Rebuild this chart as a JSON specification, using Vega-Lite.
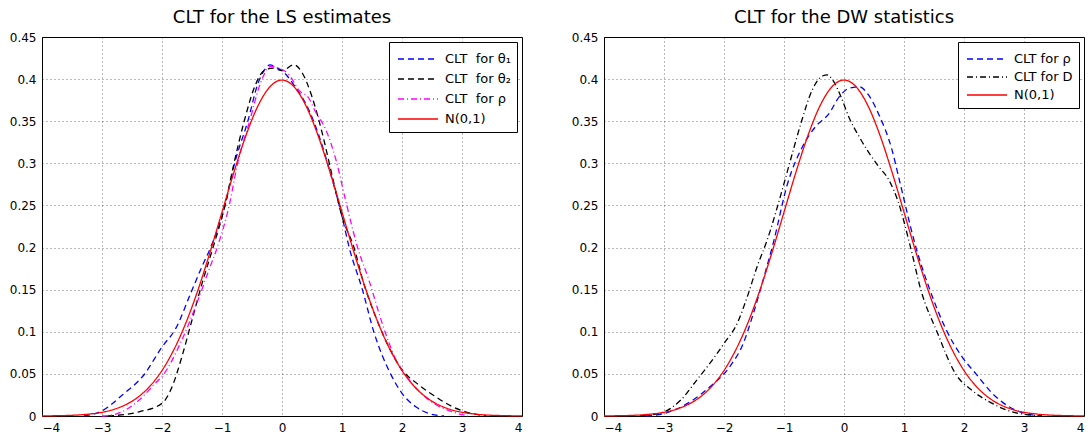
{
  "$schema": "https://vega.github.io/schema/vega-lite/v6.json",
  "padding": {"left": 8, "top": 8, "right": 2, "bottom": 2},
  "background": "white",
  "spacing": 44,
  "datasets": {
    "ls": [
      {"s": "CLT\u00a0 for θ₁", "x": -3.3, "y": 0},
      {"s": "CLT\u00a0 for θ₁", "x": -3.0, "y": 0.006},
      {"s": "CLT\u00a0 for θ₁", "x": -2.66, "y": 0.025},
      {"s": "CLT\u00a0 for θ₁", "x": -2.3, "y": 0.049},
      {"s": "CLT\u00a0 for θ₁", "x": -2.0, "y": 0.082},
      {"s": "CLT\u00a0 for θ₁", "x": -1.77, "y": 0.104},
      {"s": "CLT\u00a0 for θ₁", "x": -1.52, "y": 0.146},
      {"s": "CLT\u00a0 for θ₁", "x": -1.33, "y": 0.178},
      {"s": "CLT\u00a0 for θ₁", "x": -1.19, "y": 0.2},
      {"s": "CLT\u00a0 for θ₁", "x": -0.95, "y": 0.25},
      {"s": "CLT\u00a0 for θ₁", "x": -0.79, "y": 0.3},
      {"s": "CLT\u00a0 for θ₁", "x": -0.57, "y": 0.35},
      {"s": "CLT\u00a0 for θ₁", "x": -0.4, "y": 0.395},
      {"s": "CLT\u00a0 for θ₁", "x": -0.3, "y": 0.41},
      {"s": "CLT\u00a0 for θ₁", "x": -0.2, "y": 0.417},
      {"s": "CLT\u00a0 for θ₁", "x": -0.1, "y": 0.414},
      {"s": "CLT\u00a0 for θ₁", "x": 0, "y": 0.41},
      {"s": "CLT\u00a0 for θ₁", "x": 0.2, "y": 0.393},
      {"s": "CLT\u00a0 for θ₁", "x": 0.45, "y": 0.363},
      {"s": "CLT\u00a0 for θ₁", "x": 0.62, "y": 0.332},
      {"s": "CLT\u00a0 for θ₁", "x": 0.8, "y": 0.29},
      {"s": "CLT\u00a0 for θ₁", "x": 1.0, "y": 0.237},
      {"s": "CLT\u00a0 for θ₁", "x": 1.12, "y": 0.2},
      {"s": "CLT\u00a0 for θ₁", "x": 1.34, "y": 0.15},
      {"s": "CLT\u00a0 for θ₁", "x": 1.53, "y": 0.1},
      {"s": "CLT\u00a0 for θ₁", "x": 1.81, "y": 0.05},
      {"s": "CLT\u00a0 for θ₁", "x": 2.0, "y": 0.027},
      {"s": "CLT\u00a0 for θ₁", "x": 2.23, "y": 0.011},
      {"s": "CLT\u00a0 for θ₁", "x": 2.45, "y": 0.003},
      {"s": "CLT\u00a0 for θ₁", "x": 2.7, "y": 0},

      {"s": "CLT\u00a0 for θ₂", "x": -2.9, "y": 0},
      {"s": "CLT\u00a0 for θ₂", "x": -2.38, "y": 0.005},
      {"s": "CLT\u00a0 for θ₂", "x": -2.0, "y": 0.015},
      {"s": "CLT\u00a0 for θ₂", "x": -1.83, "y": 0.035},
      {"s": "CLT\u00a0 for θ₂", "x": -1.67, "y": 0.07},
      {"s": "CLT\u00a0 for θ₂", "x": -1.5, "y": 0.114},
      {"s": "CLT\u00a0 for θ₂", "x": -1.33, "y": 0.158},
      {"s": "CLT\u00a0 for θ₂", "x": -1.15, "y": 0.2},
      {"s": "CLT\u00a0 for θ₂", "x": -0.95, "y": 0.25},
      {"s": "CLT\u00a0 for θ₂", "x": -0.8, "y": 0.3},
      {"s": "CLT\u00a0 for θ₂", "x": -0.63, "y": 0.35},
      {"s": "CLT\u00a0 for θ₂", "x": -0.45, "y": 0.392},
      {"s": "CLT\u00a0 for θ₂", "x": -0.3, "y": 0.41},
      {"s": "CLT\u00a0 for θ₂", "x": -0.15, "y": 0.413},
      {"s": "CLT\u00a0 for θ₂", "x": 0, "y": 0.41},
      {"s": "CLT\u00a0 for θ₂", "x": 0.2, "y": 0.417},
      {"s": "CLT\u00a0 for θ₂", "x": 0.34, "y": 0.407},
      {"s": "CLT\u00a0 for θ₂", "x": 0.5, "y": 0.379},
      {"s": "CLT\u00a0 for θ₂", "x": 0.67, "y": 0.336},
      {"s": "CLT\u00a0 for θ₂", "x": 0.84, "y": 0.284},
      {"s": "CLT\u00a0 for θ₂", "x": 1.0, "y": 0.237},
      {"s": "CLT\u00a0 for θ₂", "x": 1.2, "y": 0.2},
      {"s": "CLT\u00a0 for θ₂", "x": 1.36, "y": 0.158},
      {"s": "CLT\u00a0 for θ₂", "x": 1.56, "y": 0.118},
      {"s": "CLT\u00a0 for θ₂", "x": 1.78, "y": 0.082},
      {"s": "CLT\u00a0 for θ₂", "x": 2.0, "y": 0.055},
      {"s": "CLT\u00a0 for θ₂", "x": 2.28, "y": 0.037},
      {"s": "CLT\u00a0 for θ₂", "x": 2.56, "y": 0.023},
      {"s": "CLT\u00a0 for θ₂", "x": 2.84, "y": 0.011},
      {"s": "CLT\u00a0 for θ₂", "x": 3.06, "y": 0.005},
      {"s": "CLT\u00a0 for θ₂", "x": 3.4, "y": 0},

      {"s": "CLT\u00a0 for ρ", "x": -3.0, "y": 0},
      {"s": "CLT\u00a0 for ρ", "x": -2.78, "y": 0.002},
      {"s": "CLT\u00a0 for ρ", "x": -2.38, "y": 0.019},
      {"s": "CLT\u00a0 for ρ", "x": -2.11, "y": 0.039},
      {"s": "CLT\u00a0 for ρ", "x": -2.0, "y": 0.047},
      {"s": "CLT\u00a0 for ρ", "x": -1.67, "y": 0.09},
      {"s": "CLT\u00a0 for ρ", "x": -1.44, "y": 0.13},
      {"s": "CLT\u00a0 for ρ", "x": -1.22, "y": 0.173},
      {"s": "CLT\u00a0 for ρ", "x": -1.08, "y": 0.2},
      {"s": "CLT\u00a0 for ρ", "x": -0.88, "y": 0.25},
      {"s": "CLT\u00a0 for ρ", "x": -0.74, "y": 0.3},
      {"s": "CLT\u00a0 for ρ", "x": -0.54, "y": 0.35},
      {"s": "CLT\u00a0 for ρ", "x": -0.36, "y": 0.395},
      {"s": "CLT\u00a0 for ρ", "x": -0.19, "y": 0.415},
      {"s": "CLT\u00a0 for ρ", "x": -0.05, "y": 0.413},
      {"s": "CLT\u00a0 for ρ", "x": 0.12, "y": 0.405},
      {"s": "CLT\u00a0 for ρ", "x": 0.28, "y": 0.387},
      {"s": "CLT\u00a0 for ρ", "x": 0.45, "y": 0.377},
      {"s": "CLT\u00a0 for ρ", "x": 0.56, "y": 0.361},
      {"s": "CLT\u00a0 for ρ", "x": 0.73, "y": 0.34},
      {"s": "CLT\u00a0 for ρ", "x": 0.9, "y": 0.304},
      {"s": "CLT\u00a0 for ρ", "x": 1.06, "y": 0.256},
      {"s": "CLT\u00a0 for ρ", "x": 1.26, "y": 0.2},
      {"s": "CLT\u00a0 for ρ", "x": 1.45, "y": 0.161},
      {"s": "CLT\u00a0 for ρ", "x": 1.67, "y": 0.11},
      {"s": "CLT\u00a0 for ρ", "x": 1.89, "y": 0.068},
      {"s": "CLT\u00a0 for ρ", "x": 2.12, "y": 0.043},
      {"s": "CLT\u00a0 for ρ", "x": 2.45, "y": 0.019},
      {"s": "CLT\u00a0 for ρ", "x": 2.84, "y": 0.005},
      {"s": "CLT\u00a0 for ρ", "x": 3.1, "y": 0},

      {"s": "N(0,1)", "x": -4.0, "y": 0.0001},
      {"s": "N(0,1)", "x": -3.8, "y": 0.0003},
      {"s": "N(0,1)", "x": -3.6, "y": 0.0006},
      {"s": "N(0,1)", "x": -3.4, "y": 0.0012},
      {"s": "N(0,1)", "x": -3.2, "y": 0.0024},
      {"s": "N(0,1)", "x": -3.0, "y": 0.0044},
      {"s": "N(0,1)", "x": -2.8, "y": 0.0079},
      {"s": "N(0,1)", "x": -2.6, "y": 0.0136},
      {"s": "N(0,1)", "x": -2.4, "y": 0.0224},
      {"s": "N(0,1)", "x": -2.2, "y": 0.0355},
      {"s": "N(0,1)", "x": -2.0, "y": 0.054},
      {"s": "N(0,1)", "x": -1.8, "y": 0.079},
      {"s": "N(0,1)", "x": -1.6, "y": 0.1109},
      {"s": "N(0,1)", "x": -1.4, "y": 0.1497},
      {"s": "N(0,1)", "x": -1.2, "y": 0.1942},
      {"s": "N(0,1)", "x": -1.0, "y": 0.242},
      {"s": "N(0,1)", "x": -0.8, "y": 0.2897},
      {"s": "N(0,1)", "x": -0.6, "y": 0.3332},
      {"s": "N(0,1)", "x": -0.4, "y": 0.3683},
      {"s": "N(0,1)", "x": -0.2, "y": 0.391},
      {"s": "N(0,1)", "x": 0, "y": 0.3989},
      {"s": "N(0,1)", "x": 0.2, "y": 0.391},
      {"s": "N(0,1)", "x": 0.4, "y": 0.3683},
      {"s": "N(0,1)", "x": 0.6, "y": 0.3332},
      {"s": "N(0,1)", "x": 0.8, "y": 0.2897},
      {"s": "N(0,1)", "x": 1.0, "y": 0.242},
      {"s": "N(0,1)", "x": 1.2, "y": 0.1942},
      {"s": "N(0,1)", "x": 1.4, "y": 0.1497},
      {"s": "N(0,1)", "x": 1.6, "y": 0.1109},
      {"s": "N(0,1)", "x": 1.8, "y": 0.079},
      {"s": "N(0,1)", "x": 2.0, "y": 0.054},
      {"s": "N(0,1)", "x": 2.2, "y": 0.0355},
      {"s": "N(0,1)", "x": 2.4, "y": 0.0224},
      {"s": "N(0,1)", "x": 2.6, "y": 0.0136},
      {"s": "N(0,1)", "x": 2.8, "y": 0.0079},
      {"s": "N(0,1)", "x": 3.0, "y": 0.0044},
      {"s": "N(0,1)", "x": 3.2, "y": 0.0024},
      {"s": "N(0,1)", "x": 3.4, "y": 0.0012},
      {"s": "N(0,1)", "x": 3.6, "y": 0.0006},
      {"s": "N(0,1)", "x": 3.8, "y": 0.0003},
      {"s": "N(0,1)", "x": 4.0, "y": 0.0001}
    ],
    "dw": [
      {"s": "CLT for ρ", "x": -3.3, "y": 0},
      {"s": "CLT for ρ", "x": -3.0, "y": 0.003},
      {"s": "CLT for ρ", "x": -2.56, "y": 0.017},
      {"s": "CLT for ρ", "x": -2.23, "y": 0.035},
      {"s": "CLT for ρ", "x": -1.9, "y": 0.059},
      {"s": "CLT for ρ", "x": -1.68, "y": 0.086},
      {"s": "CLT for ρ", "x": -1.51, "y": 0.122},
      {"s": "CLT for ρ", "x": -1.35, "y": 0.161},
      {"s": "CLT for ρ", "x": -1.18, "y": 0.205},
      {"s": "CLT for ρ", "x": -0.94, "y": 0.276},
      {"s": "CLT for ρ", "x": -0.69, "y": 0.32},
      {"s": "CLT for ρ", "x": -0.47, "y": 0.344},
      {"s": "CLT for ρ", "x": -0.25, "y": 0.359},
      {"s": "CLT for ρ", "x": -0.08, "y": 0.379},
      {"s": "CLT for ρ", "x": 0.08, "y": 0.389},
      {"s": "CLT for ρ", "x": 0.25, "y": 0.391},
      {"s": "CLT for ρ", "x": 0.42, "y": 0.38},
      {"s": "CLT for ρ", "x": 0.58, "y": 0.358},
      {"s": "CLT for ρ", "x": 0.8, "y": 0.316},
      {"s": "CLT for ρ", "x": 0.92, "y": 0.281},
      {"s": "CLT for ρ", "x": 1.2, "y": 0.2},
      {"s": "CLT for ρ", "x": 1.43, "y": 0.15},
      {"s": "CLT for ρ", "x": 1.72, "y": 0.1},
      {"s": "CLT for ρ", "x": 1.97, "y": 0.07},
      {"s": "CLT for ρ", "x": 2.2, "y": 0.05},
      {"s": "CLT for ρ", "x": 2.47, "y": 0.027},
      {"s": "CLT for ρ", "x": 2.75, "y": 0.011},
      {"s": "CLT for ρ", "x": 2.97, "y": 0.004},
      {"s": "CLT for ρ", "x": 3.3, "y": 0},

      {"s": "CLT for D", "x": -3.4, "y": 0},
      {"s": "CLT for D", "x": -3.0, "y": 0.005},
      {"s": "CLT for D", "x": -2.72, "y": 0.019},
      {"s": "CLT for D", "x": -2.45, "y": 0.043},
      {"s": "CLT for D", "x": -2.23, "y": 0.063},
      {"s": "CLT for D", "x": -2.0, "y": 0.086},
      {"s": "CLT for D", "x": -1.78, "y": 0.11},
      {"s": "CLT for D", "x": -1.61, "y": 0.142},
      {"s": "CLT for D", "x": -1.45, "y": 0.177},
      {"s": "CLT for D", "x": -1.28, "y": 0.209},
      {"s": "CLT for D", "x": -1.0, "y": 0.276},
      {"s": "CLT for D", "x": -0.86, "y": 0.312},
      {"s": "CLT for D", "x": -0.72, "y": 0.347},
      {"s": "CLT for D", "x": -0.53, "y": 0.387},
      {"s": "CLT for D", "x": -0.35, "y": 0.404},
      {"s": "CLT for D", "x": -0.28, "y": 0.405},
      {"s": "CLT for D", "x": -0.19, "y": 0.399},
      {"s": "CLT for D", "x": -0.05, "y": 0.379},
      {"s": "CLT for D", "x": 0.08, "y": 0.355},
      {"s": "CLT for D", "x": 0.25, "y": 0.332},
      {"s": "CLT for D", "x": 0.42, "y": 0.312},
      {"s": "CLT for D", "x": 0.58, "y": 0.296},
      {"s": "CLT for D", "x": 0.75, "y": 0.28},
      {"s": "CLT for D", "x": 0.9, "y": 0.255},
      {"s": "CLT for D", "x": 1.11, "y": 0.2},
      {"s": "CLT for D", "x": 1.28, "y": 0.15},
      {"s": "CLT for D", "x": 1.55, "y": 0.1},
      {"s": "CLT for D", "x": 1.86, "y": 0.05},
      {"s": "CLT for D", "x": 2.14, "y": 0.03},
      {"s": "CLT for D", "x": 2.47, "y": 0.015},
      {"s": "CLT for D", "x": 2.75, "y": 0.006},
      {"s": "CLT for D", "x": 3.0, "y": 0.002},
      {"s": "CLT for D", "x": 3.3, "y": 0},

      {"s": "N(0,1)", "x": -4.0, "y": 0.0001},
      {"s": "N(0,1)", "x": -3.8, "y": 0.0003},
      {"s": "N(0,1)", "x": -3.6, "y": 0.0006},
      {"s": "N(0,1)", "x": -3.4, "y": 0.0012},
      {"s": "N(0,1)", "x": -3.2, "y": 0.0024},
      {"s": "N(0,1)", "x": -3.0, "y": 0.0044},
      {"s": "N(0,1)", "x": -2.8, "y": 0.0079},
      {"s": "N(0,1)", "x": -2.6, "y": 0.0136},
      {"s": "N(0,1)", "x": -2.4, "y": 0.0224},
      {"s": "N(0,1)", "x": -2.2, "y": 0.0355},
      {"s": "N(0,1)", "x": -2.0, "y": 0.054},
      {"s": "N(0,1)", "x": -1.8, "y": 0.079},
      {"s": "N(0,1)", "x": -1.6, "y": 0.1109},
      {"s": "N(0,1)", "x": -1.4, "y": 0.1497},
      {"s": "N(0,1)", "x": -1.2, "y": 0.1942},
      {"s": "N(0,1)", "x": -1.0, "y": 0.242},
      {"s": "N(0,1)", "x": -0.8, "y": 0.2897},
      {"s": "N(0,1)", "x": -0.6, "y": 0.3332},
      {"s": "N(0,1)", "x": -0.4, "y": 0.3683},
      {"s": "N(0,1)", "x": -0.2, "y": 0.391},
      {"s": "N(0,1)", "x": 0, "y": 0.3989},
      {"s": "N(0,1)", "x": 0.2, "y": 0.391},
      {"s": "N(0,1)", "x": 0.4, "y": 0.3683},
      {"s": "N(0,1)", "x": 0.6, "y": 0.3332},
      {"s": "N(0,1)", "x": 0.8, "y": 0.2897},
      {"s": "N(0,1)", "x": 1.0, "y": 0.242},
      {"s": "N(0,1)", "x": 1.2, "y": 0.1942},
      {"s": "N(0,1)", "x": 1.4, "y": 0.1497},
      {"s": "N(0,1)", "x": 1.6, "y": 0.1109},
      {"s": "N(0,1)", "x": 1.8, "y": 0.079},
      {"s": "N(0,1)", "x": 2.0, "y": 0.054},
      {"s": "N(0,1)", "x": 2.2, "y": 0.0355},
      {"s": "N(0,1)", "x": 2.4, "y": 0.0224},
      {"s": "N(0,1)", "x": 2.6, "y": 0.0136},
      {"s": "N(0,1)", "x": 2.8, "y": 0.0079},
      {"s": "N(0,1)", "x": 3.0, "y": 0.0044},
      {"s": "N(0,1)", "x": 3.2, "y": 0.0024},
      {"s": "N(0,1)", "x": 3.4, "y": 0.0012},
      {"s": "N(0,1)", "x": 3.6, "y": 0.0006},
      {"s": "N(0,1)", "x": 3.8, "y": 0.0003},
      {"s": "N(0,1)", "x": 4.0, "y": 0.0001}
    ]
  },
  "hconcat": [
    {
      "width": 480,
      "height": 379,
      "title": {"text": "CLT for the LS estimates", "offset": 4},
      "data": {"name": "ls"},
      "mark": {"type": "line", "strokeWidth": 1.3, "interpolate": "monotone"},
      "encoding": {
        "x": {"field": "x", "type": "quantitative", "scale": {"domain": [-4, 4], "nice": false, "zero": false},
              "axis": {"values": [-4, -3, -2, -1, 0, 1, 2, 3, 4], "format": "~g"}},
        "y": {"field": "y", "type": "quantitative", "scale": {"domain": [0, 0.45], "nice": false},
              "axis": {"values": [0, 0.05, 0.1, 0.15, 0.2, 0.25, 0.3, 0.35, 0.4, 0.45], "format": "~g"}},
        "color": {"field": "s", "type": "nominal",
                  "scale": {"domain": ["CLT\u00a0 for θ₁", "CLT\u00a0 for θ₂", "CLT\u00a0 for ρ", "N(0,1)"], "range": ["#0000ff", "#000000", "#ff00ff", "#ff0000"]},
                  "legend": {"title": null, "orient": "top-right", "offset": 5, "rowPadding": 2}},
        "strokeDash": {"field": "s", "type": "nominal",
                  "scale": {"domain": ["CLT\u00a0 for θ₁", "CLT\u00a0 for θ₂", "CLT\u00a0 for ρ", "N(0,1)"], "range": [[6, 4], [6, 4], [6, 3, 1, 3], [1, 0]]},
                  "legend": {"title": null, "orient": "top-right", "offset": 5, "rowPadding": 2}}
      }
    },
    {
      "width": 480,
      "height": 379,
      "title": {"text": "CLT for the DW statistics", "offset": 4},
      "data": {"name": "dw"},
      "mark": {"type": "line", "strokeWidth": 1.3, "interpolate": "monotone"},
      "encoding": {
        "x": {"field": "x", "type": "quantitative", "scale": {"domain": [-4, 4], "nice": false, "zero": false},
              "axis": {"values": [-4, -3, -2, -1, 0, 1, 2, 3, 4], "format": "~g"}},
        "y": {"field": "y", "type": "quantitative", "scale": {"domain": [0, 0.45], "nice": false},
              "axis": {"values": [0, 0.05, 0.1, 0.15, 0.2, 0.25, 0.3, 0.35, 0.4, 0.45], "format": "~g"}},
        "color": {"field": "s", "type": "nominal",
                  "scale": {"domain": ["CLT for ρ", "CLT for D", "N(0,1)"], "range": ["#0000ff", "#000000", "#ff0000"]},
                  "legend": {"title": null, "orient": "top-right", "offset": 5, "rowPadding": 0}},
        "strokeDash": {"field": "s", "type": "nominal",
                  "scale": {"domain": ["CLT for ρ", "CLT for D", "N(0,1)"], "range": [[6, 4], [6, 3, 1, 3], [1, 0]]},
                  "legend": {"title": null, "orient": "top-right", "offset": 5, "rowPadding": 0}}
      }
    }
  ],
  "resolve": {"scale": {"color": "independent", "strokeDash": "independent"}, "legend": {"color": "independent", "strokeDash": "independent"}},
  "config": {
    "font": "DejaVu Sans",
    "view": {"stroke": "#000", "strokeWidth": 1},
    "title": {"font": "DejaVu Sans", "fontSize": 18, "fontWeight": "normal", "color": "#000", "anchor": "middle"},
    "axis": {
      "title": null,
      "labelFont": "DejaVu Sans", "labelFontSize": 12, "labelColor": "#000",
      "grid": true, "gridColor": "#000", "gridDash": [1, 3], "gridOpacity": 0.55, "gridWidth": 1,
      "domain": false, "ticks": false, "labelPadding": 6
    },
    "legend": {
      "strokeColor": "#000", "fillColor": "#fff", "padding": 6, "cornerRadius": 0,
      "labelFont": "DejaVu Sans", "labelFontSize": 13, "labelColor": "#000",
      "symbolType": "M-2,0H2", "symbolSize": 400, "symbolStrokeWidth": 1.3,
      "symbolOffset": 12, "labelOffset": 16
    }
  }
}
